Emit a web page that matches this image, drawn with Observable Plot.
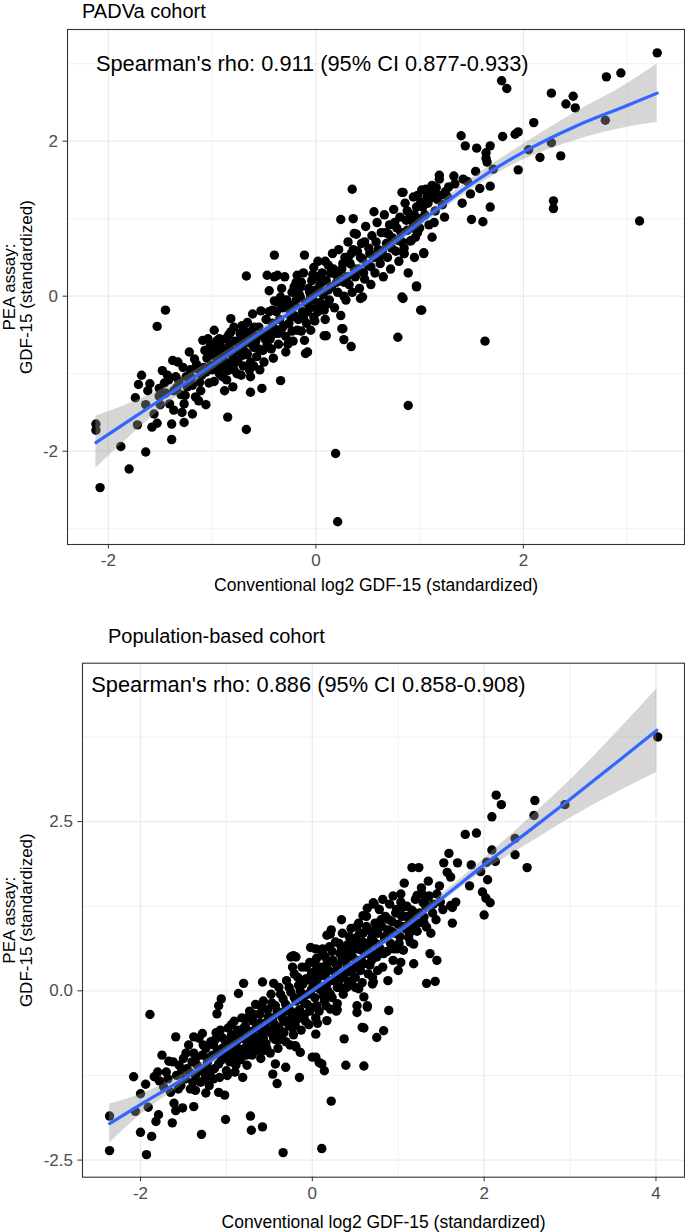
<!DOCTYPE html>
<html><head><meta charset="utf-8">
<script src="https://cdn.jsdelivr.net/npm/d3@7"></script>
<script src="https://cdn.jsdelivr.net/npm/@observablehq/plot@0.6"></script>
<style>
body{margin:0;background:#fff;}
#wrap{position:relative;width:685px;height:1232px;overflow:hidden;font-family:"Liberation Sans",Arial,sans-serif;background:#fff;}
.ttl{position:absolute;font-size:20px;line-height:22px;color:#000;white-space:nowrap;}
.pl{position:absolute;left:0;}
</style></head><body>
<div id="wrap">
<div class="ttl" id="t1" style="left:82px;top:0px"></div>
<div class="pl" id="p1" style="top:22px"></div>
<div class="ttl" id="t2" style="left:108px;top:625px"></div>
<div class="pl" id="p2" style="top:648px"></div>
</div>
<script>
// ---------- text ----------
const title1 = "PADVa cohort";
const title2 = "Population-based cohort";
const annot1 = "Spearman's rho: 0.911 (95% CI 0.877-0.933)";
const annot2 = "Spearman's rho: 0.886 (95% CI 0.858-0.908)";
const xTitle = "Conventional log2 GDF-15 (standardized)";
const yTitle = "PEA assay:\nGDF-15 (standardized)";

// ---------- ticks ----------
const xMajor1 = [-2, 0, 2];
const xLabels1 = ["-2", "0", "2"];
const xMinor1 = [-1, 1, 3];
const yMajor1 = [-2, 0, 2];
const yLabels1 = ["-2", "0", "2"];
const yMinor1 = [-3, -1, 1, 3];

const xMajor2 = [-2, 0, 2, 4];
const xLabels2 = ["-2", "0", "2", "4"];
const xMinor2 = [-1, 1, 3];
const yMajor2 = [-2.5, 0, 2.5];
const yLabels2 = ["-2.5", "0.0", "2.5"];
const yMinor2 = [-1.25, 1.25, 3.75];

// ---------- PADVa cohort points [conventional, PEA] ----------
const padvaPoints = [
[-2.12,-1.65],[-2.12,-1.73],[-2.08,-2.47],[-1.80,-2.23],[-1.88,-1.94],[-1.64,-2.01],[-1.39,-1.85],[-1.72,-1.66],[-1.58,-1.69],[-1.53,-1.64],
[-1.74,-1.31],[-1.68,-1.02],[-1.71,-1.14],[-1.60,-1.13],[-1.64,-1.40],[-1.56,-1.52],[-1.51,-1.19],[-1.48,-0.96],[-1.38,-0.83],[-1.33,-0.85],
[-1.43,-1.02],[-1.35,-1.04],[-1.51,-1.29],[-1.50,-1.40],[-1.41,-1.39],[-1.37,-1.47],[-1.29,-1.50],[-1.27,-1.39],[-1.39,-1.65],[-1.27,-1.63],
[-1.19,-1.52],[-1.37,-1.22],[-1.30,-1.27],[-1.25,-1.04],[-1.24,-1.17],[-1.17,-0.81],[-1.16,-1.30],[-1.13,-1.35],[-1.06,-1.40],[-1.12,-1.11],
[-1.45,-0.18],[-1.53,-0.39],[-1.62,-1.22],[-1.46,-1.12],[-1.32,-1.10],[-1.21,-0.95],[-1.19,-1.15],[-1.10,-1.02],[-1.22,-0.72],[-1.28,-0.92],
[-1.09,-0.57],[-1.04,-0.55],[-1.07,-0.70],[-1.01,-0.74],[-1.14,-0.94],[-1.08,-0.92],[-1.01,-0.89],[-0.98,-0.44],[-0.95,-0.57],[-0.90,-1.04],
[-0.88,-1.22],[-0.85,-0.96],[-0.80,-1.17],[-0.72,-1.02],[-0.63,-1.04],[-0.63,-1.24],[-0.52,-1.19],[-0.85,-1.56],[-0.67,-1.72],[-0.34,-1.09],
[-0.29,-0.72],[-0.96,-0.70],[-0.92,-0.64],[-0.87,-0.55],[-0.82,-0.29],[-0.82,-0.46],[-0.66,-0.34],[-0.61,-0.23],[-0.53,-0.19],[-0.69,-0.44],
[-0.72,-0.53],[-0.79,-0.40],[-0.67,0.26],
[-1.05,-0.80],[-1.00,-0.95],[-0.97,-0.78],[-0.95,-0.85],[-0.93,-1.00],[-0.91,-0.72],[-0.89,-0.82],[-0.86,-0.70],[-0.84,-0.88],[-0.83,-0.62],
[-0.81,-0.75],[-0.79,-0.95],[-0.78,-0.58],[-0.76,-0.70],[-0.75,-0.82],[-0.73,-0.48],[-0.71,-0.65],[-0.70,-0.90],[-0.68,-0.60],[-0.66,-0.75],
[-0.65,-0.52],[-0.63,-0.85],[-0.62,-0.45],[-0.60,-0.66],[-0.58,-0.58],[-0.57,-0.78],[-0.55,-0.40],[-0.54,-0.95],[-0.52,-0.50],[-0.51,-0.70],
[-0.43,-0.68],[-0.45,0.07],[-0.40,0.25],[-0.40,0.53],[-0.11,0.53],[-0.47,0.27],[-0.37,0.27],[-0.30,0.25],[-0.18,0.27],[-0.02,0.37],
[0.03,0.25],[-0.21,0.12],[-0.15,0.12],[0.05,0.16],[-0.02,0.03],[-0.15,-0.01],[-0.34,-0.01],[-0.40,-0.06],[-0.42,-0.18],[-0.31,-0.10],
[-0.24,-0.27],[-0.18,-0.44],[-0.05,-0.44],[-0.11,-0.57],[-0.02,-0.27],[0.08,-0.18],[0.08,-0.51],[-0.08,-0.72],[-0.10,-0.74],
[-0.48,-0.30],[-0.46,-0.45],[-0.44,-0.55],[-0.42,-0.35],[-0.39,-0.48],[-0.38,-0.20],[-0.36,-0.62],[-0.35,-0.30],[-0.33,-0.42],[-0.32,-0.15],
[-0.29,-0.52],[-0.28,-0.05],[-0.26,-0.35],[-0.25,-0.18],[-0.23,0.05],[-0.22,-0.58],[-0.20,-0.12],[-0.19,0.18],[-0.17,-0.30],[-0.16,0.02],
[-0.13,-0.20],[-0.12,0.30],[-0.10,-0.08],[-0.09,-0.35],[-0.07,0.10],[-0.06,-0.15],[-0.04,0.20],[-0.03,-0.05],[-0.01,-0.32],[0.00,0.08],
[0.02,0.45],[0.04,-0.08],[0.06,0.30],[0.07,0.02],[0.09,-0.30],[0.10,0.20],[0.12,0.40],[0.13,-0.05],[0.15,0.12],[0.16,0.55],
[0.18,-0.15],[0.19,0.28],[0.21,0.05],[0.22,0.60],[0.24,-0.25],[0.25,0.35],[0.27,0.18],[0.28,0.50],[0.29,-0.05],
[0.35,1.38],[0.24,0.99],[0.36,1.00],[0.37,0.81],[0.56,1.09],[0.83,1.34],[0.97,0.13],[0.83,-0.01],[1.01,-0.18],[0.79,-0.53],
[0.34,-0.65],[0.27,-0.56],[0.25,-0.42],[0.10,-0.51],[0.43,-0.03],[0.45,-0.01],[1.04,0.55],[1.12,0.76],
[0.31,0.70],[0.32,0.15],[0.33,0.42],[0.35,0.05],[0.36,0.60],[0.38,0.25],[0.39,0.80],[0.41,0.35],[0.42,0.10],[0.44,0.68],
[0.45,0.48],[0.47,0.22],[0.48,0.90],[0.50,0.40],[0.51,0.62],[0.53,0.15],[0.54,0.78],[0.56,0.50],[0.57,0.30],[0.59,0.95],
[0.60,0.60],[0.62,0.42],[0.63,0.82],[0.65,0.25],[0.66,1.05],[0.68,0.68],[0.69,0.50],[0.71,0.92],[0.72,0.35],[0.74,0.75],
[0.75,1.12],[0.77,0.58],[0.78,0.88],[0.80,0.45],[0.81,1.02],[0.83,0.70],[0.85,0.55],[0.86,1.20],[0.88,0.85],[0.89,0.30],
[0.91,1.05],[0.92,0.72],[0.94,0.95],[0.95,0.50],[0.97,1.15],[0.98,0.82],
[0.85,0.62],[1.04,0.56],[0.96,0.76],[0.91,0.71],[0.93,0.97],[1.00,1.00],[1.09,0.92],[0.84,1.34],[0.97,0.12],[0.84,-0.03],
[1.19,1.56],[1.19,1.51],[1.42,1.51],[1.34,1.45],[1.28,1.41],[1.68,1.42],[1.58,1.39],[1.49,1.32],[1.41,1.20],[1.68,1.15],
[1.50,0.99],[1.61,0.96],[1.40,2.07],[1.44,1.94],[1.55,1.91],[1.68,1.94],[1.64,1.85],[1.64,1.78],[1.65,1.73],[1.54,1.61],
[1.71,1.64],[1.63,-0.58],[0.89,-1.41],[1.12,1.43],[1.02,1.37],[0.94,1.28],[1.01,1.21],[1.10,1.26],[1.20,1.30],
[0.98,1.30],[1.03,1.15],[1.06,1.38],[1.08,1.20],[1.13,1.35],[1.15,1.10],[1.17,1.25],[1.22,1.18],[1.25,1.35],[1.05,1.05],
[1.14,0.95],[1.24,1.02],[0.85,0.55],[1.02,-0.18],[0.97,0.13],
[3.29,3.14],[2.80,2.83],[2.94,2.88],[1.79,2.78],[1.84,2.68],[2.27,2.62],[2.48,2.58],[2.41,2.48],[2.50,2.43],[2.79,2.27],
[2.10,2.24],[1.80,2.06],[1.92,2.09],[1.95,2.12],[2.05,1.89],[2.27,1.98],[2.16,1.79],[2.36,1.81],[1.95,1.63],[2.29,1.23],
[2.29,1.13],[3.12,0.97],
[0.19,-2.03],[0.21,-2.91],[0.26,-0.42],
[-1.03,-1.12],[-0.99,-0.62],[-0.94,-0.92],[-0.90,-0.78],[-0.86,-1.08],[-0.83,-0.68],[-0.77,-0.85],[-0.74,-0.62],[-0.70,-0.76],[-0.64,-0.60],
[-0.60,-0.90],[-0.56,-0.52],[-0.50,-0.85],[-0.47,-0.62],[-0.41,-0.80],[-0.37,-0.08],[-0.31,-0.38],[-0.27,-0.62],[-0.21,-0.25],[-0.14,-0.45],
[-0.08,-0.20],[-0.05,0.00],[0.01,-0.15],[0.05,0.05],[0.11,-0.10],[0.14,0.30],[0.20,0.18],[0.26,0.42],[0.30,0.25],[0.34,0.55],
[0.40,0.58],[0.46,0.30],[0.52,0.55],[0.58,0.70],[0.64,0.58],[0.70,0.80],[0.76,0.95],[0.82,0.82],[0.88,1.10],[0.93,0.88],
[-1.45,-1.25],[-1.42,-1.08],[-1.34,-1.18],[-1.26,-1.28],[-1.20,-1.05],[-1.15,-0.88],[-1.11,-1.22],[-1.06,-0.98],[-1.02,-0.65],[-0.98,-1.10],
[-0.93,-0.55],[-0.88,-0.90],[-0.84,-0.50],[-0.80,-0.82],[-0.76,-1.00],[-0.71,-0.38],[-0.68,-0.72],[-0.64,-0.95],[-0.59,-0.40],[-0.55,-0.68],
[-0.49,-0.55],[-0.45,-0.20],[-0.41,-0.40],[-0.36,-0.48],[-0.33,0.10],[-0.27,-0.10],[-0.23,-0.45],[-0.19,-0.05],[-0.14,0.18],[-0.12,-0.28],
[-0.06,0.05],[-0.03,0.28],[0.02,-0.20],[0.04,0.15],[0.09,0.45],[0.12,0.08],[0.17,0.35],[0.23,0.25],[0.27,0.00],[0.31,0.48],
[0.37,0.35],[0.43,0.50],[0.47,0.70],[0.53,0.38],[0.61,0.50],[0.67,0.82],[0.73,0.62],[0.79,0.72],[0.87,0.98],[0.95,1.05],
[1.00,0.88],[1.07,1.28],[1.16,1.40],[1.27,1.28],[1.33,1.55],[1.46,1.48]
];

// ---------- PADVa smooth ----------
const smoothX1 = [-2.12,-1.75,-1.5,-1.0,-0.5,0,0.5,1.0,1.5,2.0,2.5,3.0,3.29];
const fit1     = [-1.89,-1.56,-1.34,-0.89,-0.44,0.01,0.44,0.95,1.45,1.86,2.19,2.46,2.62];
const lo1      = [-2.22,-1.76,-1.47,-0.96,-0.49,-0.04,0.39,0.89,1.38,1.76,2.01,2.18,2.24];
const hi1      = [-1.55,-1.36,-1.21,-0.82,-0.39,0.06,0.49,1.01,1.52,1.96,2.37,2.74,3.00];

// ---------- Population-based cohort points ----------
const popPoints = [
[4.02,3.75],[2.94,2.75],[2.14,2.89],[2.20,2.75],[2.59,2.81],[2.58,2.59],[2.09,2.57],[1.78,2.31],[1.91,2.33],[2.36,2.25],
[2.36,2.01],[2.50,1.82],[2.09,2.08],[2.03,1.90],[2.13,1.91],[2.04,1.64],[1.59,2.03],[1.53,1.89],[1.69,1.89],[1.57,1.75],
[1.61,1.68],[1.85,1.86],[1.96,1.76],[1.83,1.55],[1.98,1.46],[2.02,1.37],[2.07,1.30],[2.00,1.12],[1.63,1.00],[1.63,1.23],
[1.67,1.31],[1.61,1.26],[1.16,1.82],[1.24,1.82],[1.07,1.59],[1.22,1.41],[1.28,1.43],[1.32,1.36],[1.45,1.43],[1.49,1.31],
[1.41,1.28],[1.03,1.43],[1.03,1.31],[1.05,1.23],[1.16,1.19],[1.30,1.09],[1.33,0.94],[1.18,0.96],[1.12,0.79],[1.18,0.69],
[1.37,0.55],[1.45,0.45],
[0.71,1.30],[0.34,1.05],[0.17,0.82],[0.21,0.84],[-0.02,0.64],[0.04,0.62],[-0.22,0.52],[-0.25,0.50],[-0.80,0.11],[-0.86,-0.04],
[-1.06,-0.12],[-1.09,-0.22],[-1.11,-0.34],[0.89,-0.29],[0.83,-0.59],[0.75,-0.69],[0.60,-0.55],[0.37,-0.71],[1.33,0.11],[1.43,0.14],
[1.18,0.40],[1.03,0.42],[0.70,0.10],[0.71,0.13],[0.50,0.05],[0.54,0.03],[0.60,-0.09],[0.64,-0.22],[0.52,-0.22],[0.52,-0.32],
[0.29,-0.28],[0.17,-0.44],[0.06,-0.48],[0.04,-0.64],[-0.20,-0.81],[-0.14,-0.91],[0.04,-0.98],[0.11,-1.08],[0.39,-1.10],[0.60,-1.11],
[0.59,1.11],[0.72,1.28],[-0.58,0.13],[-0.45,0.11],
[-2.36,-1.85],[-2.36,-2.36],[-1.93,-2.42],[-2.00,-2.09],[-1.87,-2.15],[-2.06,-1.78],[-1.82,-1.93],[-1.79,-1.83],[-1.63,-1.95],[-1.91,-1.72],
[-2.00,-1.52],[-1.94,-1.38],[-2.08,-1.27],[-1.89,-0.35],[-1.59,-0.68],[-1.84,-1.27],[-1.78,-1.33],[-1.80,-1.20],[-1.67,-1.04],[-1.65,-1.50],
[-1.61,-1.66],[-1.59,-1.77],[-1.51,-1.73],[-1.38,-1.71],[-1.29,-2.12],[-1.01,-1.90],[-0.72,-1.85],[-0.71,-2.06],[-0.58,-2.01],[-0.34,-2.39],
[0.11,-2.33],[0.22,-1.63],[-0.41,-1.37],[-0.15,-1.28],[-0.81,-1.28],[-1.02,-1.54],[-1.09,-1.50],[-1.24,-1.51],[-1.36,-1.47],[0.00,-0.98],
[0.08,-1.06],[0.14,-1.18],[-0.19,-0.83],[-0.43,-1.08],[-0.31,-1.13],[-0.46,-1.23],[0.21,-0.27],[0.29,-0.19],[0.12,0.62],[-0.19,0.50],
[-0.23,0.35],[-1.38,-0.68],[-1.28,-0.63],[0.64,-0.24],[0.58,-0.54],
[-1.58,-1.25],[-1.55,-1.10],[-1.53,-1.40],[-1.50,-1.00],[-1.48,-1.30],[-1.46,-1.15],[-1.44,-0.80],[-1.42,-1.45],[-1.40,-1.05],[-1.38,-0.92],
[-1.36,-1.25],[-1.34,-1.10],[-1.32,-0.70],[-1.30,-1.35],[-1.28,-0.95],[-1.26,-1.20],[-1.24,-0.85],[-1.22,-1.05],[-1.20,-1.40],[-1.18,-0.75],
[-1.16,-0.95],[-1.14,-1.15],[-1.12,-0.62],[-1.10,-0.88],[-1.08,-1.28],[-1.06,-1.02],[-1.04,-0.70],[-1.02,-0.90],[-1.00,-1.18],[-0.98,-0.55],
[-0.97,-0.80],[-0.96,-1.05],[-0.94,-0.65],[-0.93,-0.95],[-0.91,-0.45],[-0.90,-1.20],[-0.88,-0.75],[-0.87,-0.58],[-0.85,-0.90],[-0.84,-1.02],
[-0.82,-0.40],[-0.81,-0.70],[-0.79,-0.85],[-0.78,-0.52],[-0.76,-1.10],[-0.75,-0.62],[-0.73,-0.30],[-0.72,-0.78],[-0.70,-0.95],[-0.69,-0.45],
[-0.67,-0.68],[-0.66,-0.20],[-0.64,-0.88],[-0.63,-0.55],[-0.61,-0.35],[-0.60,-1.00],[-0.58,-0.62],[-0.57,-0.15],[-0.55,-0.48],[-0.54,-0.78],
[-0.52,-0.28],[-0.51,-0.58],[-0.49,-0.92],[-0.48,-0.05],[-0.46,-0.40],[-0.45,-0.70],[-0.43,-0.22],[-0.42,-0.52],[-0.40,-0.85],[-0.39,0.05],
[-0.37,-0.35],[-0.36,-0.60],[-0.34,-0.12],[-0.33,-0.45],[-0.31,-0.75],[-0.30,0.15],[-0.28,-0.25],[-0.27,-0.52],[-0.25,-0.02],[-0.24,-0.38],
[-0.22,-0.65],[-0.21,0.25],[-0.19,-0.15],[-0.18,-0.42],[-0.16,0.08],[-0.15,-0.28],[-0.13,-0.58],[-0.12,0.35],[-0.10,-0.08],[-0.09,-0.35],
[-0.07,0.18],[-0.06,-0.20],[-0.04,-0.50],[-0.03,0.42],[-0.01,0.02],[0.00,-0.25],
[0.02,0.28],[0.03,-0.10],[0.05,0.48],[0.06,0.10],[0.08,-0.30],[0.09,0.35],[0.11,0.05],[0.12,0.55],[0.14,-0.15],[0.15,0.22],
[0.17,0.40],[0.18,0.00],[0.20,0.65],[0.21,0.15],[0.23,-0.10],[0.24,0.45],[0.26,0.28],[0.27,0.72],[0.29,0.05],[0.30,0.38],
[0.32,0.55],[0.33,0.18],[0.35,0.85],[0.36,-0.05],[0.38,0.45],[0.39,0.30],[0.41,0.68],[0.42,0.12],[0.44,0.52],[0.45,0.92],
[0.47,0.35],[0.48,0.62],[0.50,0.20],[0.51,0.78],[0.53,0.45],[0.54,1.00],[0.56,0.30],[0.57,0.60],[0.59,0.85],[0.60,0.40],
[0.62,0.70],[0.63,1.10],[0.65,0.25],[0.66,0.55],[0.68,0.88],[0.69,0.45],
[0.72,0.72],[0.73,1.00],[0.75,0.50],[0.76,0.85],[0.78,1.20],[0.79,0.62],[0.81,0.95],[0.82,0.35],[0.84,0.78],[0.85,1.10],
[0.87,0.58],[0.88,0.90],[0.90,1.28],[0.91,0.70],[0.93,1.02],[0.94,0.45],[0.96,0.85],[0.97,1.15],[0.99,0.62],[1.00,0.98],
[1.02,0.80],[1.04,1.10],[1.06,0.60],[1.08,0.92],[1.10,1.25],[1.12,0.98],[1.14,0.72],[1.17,1.08],[1.20,1.35],[1.22,0.88],
[1.25,1.15],[1.27,1.52],[1.30,1.00],[1.32,1.25],[1.35,1.62],[1.38,0.85],[1.40,1.15],[1.44,1.05],[1.48,1.55],[1.52,1.20],
[-1.25,-1.30],[-1.19,-1.22],[-1.15,-0.80],[-1.05,-0.85],[-0.99,-0.98],[-0.95,-0.72],[-0.89,-0.98],[-0.83,-0.60],[-0.77,-0.95],[-0.74,-0.70],
[-0.68,-0.82],[-0.62,-0.70],[-0.56,-0.88],[-0.50,-0.40],[-0.44,-0.60],[-0.38,-0.72],[-0.32,-0.30],[-0.26,-0.80],[-0.20,-0.50],[-0.14,0.00],
[-0.08,-0.45],[-0.02,0.15],[0.04,-0.40],[0.10,0.60],[0.16,-0.22],[0.22,0.90],[0.28,-0.30],[0.34,0.62],[0.40,0.05],[0.46,0.15],
[0.52,0.95],[0.58,0.12],[0.64,1.22],[0.70,0.20],[0.76,0.30],[0.82,1.35],[0.88,0.15],[0.94,1.40],[1.00,0.30],
[-1.52,-1.18],[-1.47,-0.92],[-1.43,-1.20],[-1.39,-1.35],[-1.35,-0.98],[-1.31,-1.18],[-1.27,-0.80],[-1.23,-1.12],[-1.19,-0.98],[-1.15,-1.30],
[-1.13,-0.72],[-1.09,-1.08],[-1.07,-0.58],[-1.03,-0.98],[-1.01,-0.75],[-0.99,-1.25],[-0.96,-0.88],[-0.94,-0.50],[-0.92,-0.75],[-0.89,-1.10],
[-0.87,-0.85],[-0.84,-0.68],[-0.82,-0.98],[-0.80,-0.55],[-0.78,-0.72],[-0.76,-0.40],[-0.74,-0.90],[-0.71,-0.60],[-0.69,-0.80],[-0.67,-0.35],
[-0.65,-0.55],[-0.63,-0.78],[-0.61,-0.48],[-0.59,-0.25],[-0.57,-0.70],[-0.55,-0.58],[-0.53,-0.85],[-0.51,-0.38],[-0.49,-0.62],[-0.47,-0.18],
[-0.45,-0.48],[-0.43,-0.72],[-0.41,-0.30],[-0.39,-0.55],[-0.37,-0.05],[-0.35,-0.40],[-0.33,-0.62],[-0.31,-0.20],[-0.29,-0.45],[-0.27,0.05],
[-0.25,-0.30],[-0.23,-0.55],[-0.21,-0.10],[-0.19,-0.35],[-0.17,0.20],[-0.15,-0.12],[-0.13,-0.40],[-0.11,0.10],[-0.09,-0.18],[-0.07,0.35],
[-0.05,-0.05],[-0.03,-0.30],[-0.01,0.25],[0.01,0.05],[0.03,0.40],[0.05,-0.22],[0.07,0.20],[0.09,0.02],[0.11,0.30],[0.13,-0.08],
[0.15,0.50],[0.17,0.10],[0.19,0.30],[0.21,-0.05],[0.23,0.58],[0.25,0.15],[0.27,0.40],[0.29,0.25],[0.31,0.70],[0.33,0.05],
[0.35,0.48],[0.37,0.20],[0.39,0.58],[0.41,0.38],[0.43,0.80],[0.45,0.28],[0.47,0.50],[0.49,0.70],[0.51,0.35],[0.53,0.62],
[0.55,0.85],[0.57,0.45],[0.59,0.72],[0.61,0.55],[0.63,0.95],[0.65,0.65],[0.67,0.38],[0.69,0.78],[0.71,0.55],[0.74,0.92],
[0.77,0.68],[0.80,1.05],[0.83,0.55],[0.86,0.82],[0.89,1.05],[0.92,0.88],[0.95,0.62],[0.98,1.20],[1.01,0.70],[1.05,0.95],
[1.09,1.10],[1.13,0.85],[1.19,1.15],[1.23,1.00],[1.29,1.30],[1.36,1.40],[-1.70,-1.20],[-1.73,-1.42],[-1.75,-0.95],[-1.68,-1.30],
[-1.56,-1.45],[-1.62,-1.05]
];

// ---------- Population-based smooth ----------
const smoothX2 = [-2.36,-2.0,-1.5,-1.0,-0.5,0,0.5,1.0,1.5,2.0,2.5,3.0,3.5,4.01];
const fit2     = [-1.96,-1.68,-1.30,-0.87,-0.44,0.00,0.44,0.87,1.36,1.86,2.34,2.83,3.33,3.85];
const lo2      = [-2.25,-1.83,-1.38,-0.92,-0.48,-0.03,0.40,0.82,1.30,1.77,2.16,2.55,2.90,3.23];
const hi2      = [-1.67,-1.53,-1.22,-0.82,-0.40,0.03,0.48,0.92,1.42,1.95,2.52,3.11,3.76,4.46];

const FONT = '"Liberation Sans", Arial, Helvetica, sans-serif';

function panel(o) {
  const rows = o.sx.map((x, i) => ({x, fit: o.fit[i], lo: o.lo[i], hi: o.hi[i]}));
  const grid = {stroke: "#EBEBEB", strokeOpacity: 1};
  return Plot.plot({
    width: 685,
    height: o.height,
    marginLeft: o.marginLeft,
    marginRight: 1,
    marginTop: o.marginTop,
    marginBottom: o.marginBottom,
    style: {fontFamily: FONT, background: "white", overflow: "visible"},
    x: {domain: o.xDomain},
    y: {domain: o.yDomain},
    marks: [
      Plot.gridX(o.xMinor, {...grid, strokeWidth: 0.7}),
      Plot.gridY(o.yMinor, {...grid, strokeWidth: 0.7}),
      Plot.gridX(o.xMajor, {...grid, strokeWidth: 1.3}),
      Plot.gridY(o.yMajor, {...grid, strokeWidth: 1.3}),
      Plot.dot(o.points, {x: d => d[0], y: d => d[1], r: 4.7, fill: "black"}),
      Plot.areaY(rows, {x: "x", y1: "lo", y2: "hi", fill: "#999999", fillOpacity: 0.4, curve: "monotone-x"}),
      Plot.line(rows, {x: "x", y: "fit", stroke: "#3366FF", strokeWidth: 3.2, curve: "monotone-x"}),
      Plot.text([o.ann], {x: d => d.x, y: d => d.y, text: d => d.text, textAnchor: "start", lineAnchor: "middle", fontSize: 21.8, fill: "black"}),
      Plot.frame({stroke: "#333333", strokeWidth: 1.1}),
      Plot.axisX(o.xMajor, {tickSize: 4.5, tickPadding: 5, fontSize: 17, stroke: "#333333", fill: "#4D4D4D", label: null,
        tickFormat: d => o.xLabels[o.xMajor.indexOf(d)]}),
      Plot.axisY(o.yMajor, {tickSize: 4.5, tickPadding: 5, fontSize: 17, stroke: "#333333", fill: "#4D4D4D", label: null,
        tickFormat: d => o.yLabels[o.yMajor.indexOf(d)]}),
      Plot.text([xTitle], {text: d => d, frameAnchor: "bottom", dy: o.xTitleDy, lineAnchor: "middle", fontSize: 17.5, fill: "black"}),
      Plot.text([yTitle], {text: d => d, frameAnchor: "left", dx: o.yTitleDx, rotate: -90, textAnchor: "middle", lineAnchor: "middle", lineHeight: 1.0, fontSize: 17, fill: "black"})
    ]
  });
}

document.getElementById("t1").textContent = title1;
document.getElementById("t2").textContent = title2;

document.getElementById("p1").appendChild(panel({
  height: 578, marginLeft: 67, marginTop: 7, marginBottom: 56,
  xDomain: [-2.394, 3.553], yDomain: [-3.204, 3.441],
  xMajor: xMajor1, xLabels: xLabels1, xMinor: xMinor1,
  yMajor: yMajor1, yLabels: yLabels1, yMinor: yMinor1,
  points: padvaPoints, sx: smoothX1, fit: fit1, lo: lo1, hi: hi1,
  ann: {x: -2.12, y: 2.99, text: annot1},
  xTitleDy: 41, yTitleDx: -49.5
}));

document.getElementById("p2").appendChild(panel({
  height: 584, marginLeft: 82, marginTop: 14.7, marginBottom: 55.3,
  xDomain: [-2.675, 4.332], yDomain: [-2.753, 4.839],
  xMajor: xMajor2, xLabels: xLabels2, xMinor: xMinor2,
  yMajor: yMajor2, yLabels: yLabels2, yMinor: yMinor2,
  points: popPoints, sx: smoothX2, fit: fit2, lo: lo2, hi: hi2,
  ann: {x: -2.573, y: 4.51, text: annot2},
  xTitleDy: 45, yTitleDx: -64.5
}));
</script>
</body></html>
